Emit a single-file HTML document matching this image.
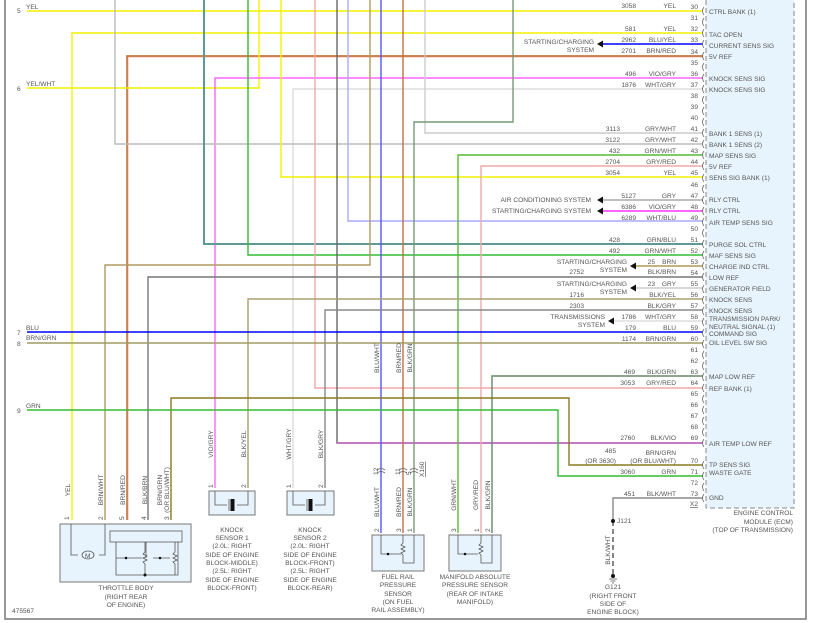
<!DOCTYPE html>
<html><head><meta charset="utf-8"><style>
html,body{margin:0;padding:0;background:#fff;}
svg{display:block;font-family:"Liberation Sans",sans-serif;}
text{fill:#555;font-size:6.6px;}
.r{text-anchor:end}.m{text-anchor:middle}
</style></head><body>
<svg width="819" height="623" viewBox="0 0 819 623" xmlns="http://www.w3.org/2000/svg">
<rect x="0" y="0" width="819" height="623" fill="#fff"/>
<!-- frame -->
<path d="M5 0 V619 H806 V0" fill="none" stroke="#777" stroke-width="1.5"/>
<!-- ECM box -->
<rect x="706" y="-5" width="88" height="513" fill="#e8f4fd" stroke="#888" stroke-dasharray="5,3"/>
<g fill="none" stroke-width="1.4">
<!-- pin5 YEL -> 30 -->
<path d="M27 11 H703" stroke="#f2f200"/>
<!-- pin 32 YEL -> throttle 1 -->
<path d="M703 33 H72 V520" stroke="#f2f200"/>
<!-- pin 34 BRN/RED -> throttle 5 -->
<path d="M703 56 H127 V520" stroke="#b5651d"/>
<path d="M703 57 H128 V520" stroke="#f08070" stroke-width="0.6"/>
<!-- pin 6 YEL/WHT -->
<path d="M27 88 H259 V0" stroke="#f2f200"/>
<!-- pin 36 VIO/GRY -> KS1 pin1 -->
<path d="M703 78 H215 V488" stroke="#ff66ff"/>
<!-- pin 37 WHT/GRY -> KS2 pin1 -->
<path d="M703 89 H293 V488" stroke="#dddddd"/>
<!-- x=115 gray -> pin 42 -->
<path d="M115 0 V144 H703" stroke="#bbbbbb"/>
<!-- 425 gray -> pin 41 -->
<path d="M425 0 V133 H703" stroke="#cccccc"/>
<!-- 281 yellow -> pin 45 -->
<path d="M281 0 V177 H703" stroke="#f2f200"/>
<!-- 204 GRN/BLU -> pin 51 -->
<path d="M204 0 V244 H703" stroke="#8888ff" stroke-width="2"/>
<path d="M204 0 V244 H703" stroke="#33aa33" stroke-width="1"/>
<!-- 248 GRN -> pin 52 -->
<path d="M248 0 V255 H703" stroke="#33bb33"/>
<!-- 348 WHT/BLU -> pin 49 -->
<path d="M348 0 V221 H703" stroke="#aaaaff"/>
<!-- 315 GRY/RED -> pin 64 -->
<path d="M315 0 V388 H703" stroke="#f0a8a8"/>
<!-- 337 BLK/VIO -> pin 69 -->
<path d="M337 0 V443 H703" stroke="#666"/>
<path d="M337 443 H703" stroke="#cc66cc"/>
<!-- 370 tan -> throttle 2 -->
<path d="M370 0 V265 H105 V520" stroke="#b09a60"/>
<!-- 381 BLU/WHT -> fuel rail 2 -->
<path d="M381 0 V533" stroke="#5555ff"/>
<!-- 403 BRN/RED -> fuel rail 3 -->
<path d="M403 0 V533" stroke="#c07040"/>
<!-- 513 green -> 414 fuel rail 1 -->
<path d="M513 0 V122 H414 V533" stroke="#779977"/>
<!-- pin 43 GRN/WHT -> MAP 3 -->
<path d="M703 155 H458 V533" stroke="#55bb33"/>
<!-- pin 44 GRY/RED -> MAP 1 -->
<path d="M703 166 H481 V533" stroke="#f0a8a8"/>
<!-- pin 63 BLK/GRN -> MAP 2 -->
<path d="M703 376 H492 V533" stroke="#668866"/>
<!-- pin 54 BLK/BRN -> throttle 4 -->
<path d="M703 277 H148 V520" stroke="#777"/>
<!-- pin 56 BLK/YEL -> KS1 pin2 -->
<path d="M703 299 H248 V488" stroke="#a8a070"/>
<!-- pin 57 BLK/GRY -> KS2 pin2 -->
<path d="M703 310 H325 V488" stroke="#888"/>
<!-- pin 59 BLU -->
<path d="M27 332 H703" stroke="#0000ff"/>
<!-- pin 60 BRN/GRN -->
<path d="M27 343 H703" stroke="#a09a60"/>
<!-- pin 70 -->
<path d="M171 520 V398 H569 V465 H703" stroke="#8a7a20"/>
<!-- pin 9 GRN -> 71 -->
<path d="M27 410 H558 V476 H703" stroke="#33bb33"/>
<!-- arrows wires -->
<path d="M600 44 H703" stroke="#0000ff"/>
<path d="M600 200 H703" stroke="#aaa"/>
<path d="M600 211 H703" stroke="#ff33ff"/>
<path d="M634 266 H703" stroke="#b09a50"/>
<path d="M634 288 H703" stroke="#ccc"/>
<path d="M612 321 H703" stroke="#ddd"/>
<!-- GND -->
<path d="M703 498 H613 V521" stroke="#888"/>
<path d="M613 521 V575" stroke="#555" stroke-dasharray="5,3"/>
</g>
<!-- arrowheads -->
<g fill="#111">
<path d="M597 44 l6 -3.5 v7z"/><path d="M597 200 l6 -3.5 v7z"/><path d="M597 211 l6 -3.5 v7z"/>
<path d="M630 266 l6 -3.5 v7z"/><path d="M630 288 l6 -3.5 v7z"/><path d="M608 321 l6 -3.5 v7z"/>
<circle cx="613" cy="521" r="2"/><circle cx="613" cy="576" r="2"/>
</g>
<path d="M609 579 h8 M610.5 581 h5 M612 583 h2" stroke="#555" stroke-width="0.8"/>
<!-- ECM connector marks -->
<g fill="none" stroke="#666" stroke-width="0.8">
<path d="M704 7 q-3 4 0 8 M704 18 q-3 4 0 8 M704 29 q-3 4 0 8 M704 40 q-3 4 0 8 M704 52 q-3 4 0 8 M704 63 q-3 4 0 8 M704 74 q-3 4 0 8 M704 85 q-3 4 0 8 M704 96 q-3 4 0 8 M704 107 q-3 4 0 8 M704 118 q-3 4 0 8 M704 129 q-3 4 0 8 M704 140 q-3 4 0 8 M704 151 q-3 4 0 8 M704 162 q-3 4 0 8 M704 174 q-3 4 0 8 M704 185 q-3 4 0 8 M704 196 q-3 4 0 8 M704 207 q-3 4 0 8 M704 218 q-3 4 0 8 M704 229 q-3 4 0 8 M704 240 q-3 4 0 8 M704 251 q-3 4 0 8 M704 262 q-3 4 0 8 M704 273 q-3 4 0 8 M704 285 q-3 4 0 8 M704 296 q-3 4 0 8 M704 307 q-3 4 0 8 M704 318 q-3 4 0 8 M704 329 q-3 4 0 8 M704 340 q-3 4 0 8 M704 351 q-3 4 0 8 M704 362 q-3 4 0 8 M704 373 q-3 4 0 8 M704 384 q-3 4 0 8 M704 395 q-3 4 0 8 M704 406 q-3 4 0 8 M704 417 q-3 4 0 8 M704 428 q-3 4 0 8 M704 439 q-3 4 0 8 M704 461 q-3 4 0 8 M704 472 q-3 4 0 8 M704 483 q-3 4 0 8 M704 494 q-3 4 0 8"/>
</g>
<!-- pin numbers -->
<g class="r">
<text x="698" y="9" class="r">30</text><text x="698" y="20" class="r">31</text><text x="698" y="31" class="r">32</text><text x="698" y="42" class="r">33</text><text x="698" y="54" class="r">34</text><text x="698" y="65" class="r">35</text><text x="698" y="76" class="r">36</text><text x="698" y="87" class="r">37</text><text x="698" y="98" class="r">38</text><text x="698" y="109" class="r">39</text><text x="698" y="120" class="r">40</text><text x="698" y="131" class="r">41</text><text x="698" y="142" class="r">42</text><text x="698" y="153" class="r">43</text><text x="698" y="164" class="r">44</text><text x="698" y="175" class="r">45</text><text x="698" y="187" class="r">46</text><text x="698" y="198" class="r">47</text><text x="698" y="209" class="r">48</text><text x="698" y="220" class="r">49</text><text x="698" y="231" class="r">50</text><text x="698" y="242" class="r">51</text><text x="698" y="253" class="r">52</text><text x="698" y="264" class="r">53</text><text x="698" y="275" class="r">54</text><text x="698" y="286" class="r">55</text><text x="698" y="297" class="r">56</text><text x="698" y="308" class="r">57</text><text x="698" y="319" class="r">58</text><text x="698" y="330" class="r">59</text><text x="698" y="341" class="r">60</text><text x="698" y="352" class="r">61</text><text x="698" y="363" class="r">62</text><text x="698" y="374" class="r">63</text><text x="698" y="385" class="r">64</text><text x="698" y="396" class="r">65</text><text x="698" y="407" class="r">66</text><text x="698" y="418" class="r">67</text><text x="698" y="429" class="r">68</text><text x="698" y="440" class="r">69</text><text x="698" y="463" class="r">70</text><text x="698" y="474" class="r">71</text><text x="698" y="485" class="r">72</text><text x="698" y="496" class="r">73</text>
</g>
<text x="698" y="506" class="r" text-decoration="underline">X2</text>
<!-- ECM labels -->
<g>
<text x="709" y="14">CTRL BANK (1)</text><text x="709" y="37">TAC OPEN</text><text x="709" y="48">CURRENT SENS SIG</text><text x="709" y="59">5V REF</text><text x="709" y="81">KNOCK SENS SIG</text><text x="709" y="92">KNOCK SENS SIG</text><text x="709" y="136">BANK 1 SENS (1)</text><text x="709" y="147">BANK 1 SENS (2)</text><text x="709" y="158">MAP SENS SIG</text><text x="709" y="169">5V REF</text><text x="709" y="180">SENS SIG BANK (1)</text><text x="709" y="202">RLY CTRL</text><text x="709" y="213">RLY CTRL</text><text x="709" y="225">AIR TEMP SENS SIG</text><text x="709" y="247">PURGE SOL CTRL</text><text x="709" y="258">MAF SENS SIG</text><text x="709" y="269">CHARGE IND CTRL</text><text x="709" y="280">LOW REF</text><text x="709" y="291">GENERATOR FIELD</text><text x="709" y="302">KNOCK SENS</text><text x="709" y="313">KNOCK SENS</text><text x="709" y="321">TRANSMISSION PARK/</text><text x="709" y="329">NEUTRAL SIGNAL (1)</text><text x="709" y="336">COMMAND SIG</text><text x="709" y="345">OIL LEVEL SW SIG</text><text x="709" y="379">MAP LOW REF</text><text x="709" y="391">REF BANK (1)</text><text x="709" y="446">AIR TEMP LOW REF</text><text x="709" y="467">TP SENS SIG</text><text x="709" y="475">WASTE GATE</text><text x="709" y="500">GND</text>
<text x="793" y="515" class="r">ENGINE CONTROL</text><text x="793" y="524" class="r">MODULE (ECM)</text><text x="793" y="532" class="r">(TOP OF TRANSMISSION)</text>
</g>
<!-- wire numbers/colors -->
<g>
<text x="636" y="8" class="r">3058</text><text x="676" y="8" class="r">YEL</text>
<text x="636" y="31" class="r">581</text><text x="676" y="31" class="r">YEL</text>
<text x="636" y="42" class="r">2962</text><text x="676" y="42" class="r">BLU/YEL</text>
<text x="636" y="53" class="r">2701</text><text x="676" y="53" class="r">BRN/RED</text>
<text x="636" y="76" class="r">496</text><text x="676" y="76" class="r">VIO/GRY</text>
<text x="636" y="87" class="r">1876</text><text x="676" y="87" class="r">WHT/GRY</text>
<text x="620" y="131" class="r">3113</text><text x="676" y="131" class="r">GRY/WHT</text>
<text x="620" y="142" class="r">3122</text><text x="676" y="142" class="r">GRY/WHT</text>
<text x="620" y="153" class="r">432</text><text x="676" y="153" class="r">GRN/WHT</text>
<text x="620" y="164" class="r">2704</text><text x="676" y="164" class="r">GRY/RED</text>
<text x="620" y="175" class="r">3054</text><text x="676" y="175" class="r">YEL</text>
<text x="636" y="198" class="r">5127</text><text x="676" y="198" class="r">GRY</text>
<text x="636" y="209" class="r">6386</text><text x="676" y="209" class="r">VIO/GRY</text>
<text x="636" y="220" class="r">6289</text><text x="676" y="220" class="r">WHT/BLU</text>
<text x="620" y="242" class="r">428</text><text x="676" y="242" class="r">GRN/BLU</text>
<text x="620" y="253" class="r">492</text><text x="676" y="253" class="r">GRN/WHT</text>
<text x="655" y="264" class="r">25</text><text x="676" y="264" class="r">BRN</text>
<text x="584" y="274" class="r">2752</text><text x="676" y="274" class="r">BLK/BRN</text>
<text x="655" y="286" class="r">23</text><text x="676" y="286" class="r">GRY</text>
<text x="584" y="297" class="r">1716</text><text x="676" y="297" class="r">BLK/YEL</text>
<text x="584" y="308" class="r">2303</text><text x="676" y="308" class="r">BLK/GRY</text>
<text x="636" y="319" class="r">1786</text><text x="676" y="319" class="r">WHT/GRY</text>
<text x="636" y="330" class="r">179</text><text x="676" y="330" class="r">BLU</text>
<text x="636" y="341" class="r">1174</text><text x="676" y="341" class="r">BRN/GRN</text>
<text x="635" y="374" class="r">469</text><text x="676" y="374" class="r">BLK/GRN</text>
<text x="635" y="385" class="r">3053</text><text x="676" y="385" class="r">GRY/RED</text>
<text x="635" y="440" class="r">2760</text><text x="676" y="440" class="r">BLK/VIO</text>
<text x="616" y="453" class="r">485</text><text x="676" y="455" class="r">BRN/GRN</text>
<text x="616" y="463" class="r">(OR 3630)</text><text x="676" y="463" class="r">(OR BLU/WHT)</text>
<text x="635" y="474" class="r">3060</text><text x="676" y="474" class="r">GRN</text>
<text x="635" y="496" class="r">451</text><text x="676" y="496" class="r">BLK/WHT</text>
<!-- system labels -->
<text x="594" y="44" class="r">STARTING/CHARGING</text><text x="594" y="52" class="r">SYSTEM</text>
<text x="591" y="202" class="r">AIR CONDITIONING SYSTEM</text>
<text x="591" y="213" class="r">STARTING/CHARGING SYSTEM</text>
<text x="627" y="264" class="r">STARTING/CHARGING</text><text x="627" y="272" class="r">SYSTEM</text>
<text x="627" y="286" class="r">STARTING/CHARGING</text><text x="627" y="294" class="r">SYSTEM</text>
<text x="605" y="319" class="r">TRANSMISSIONS</text><text x="605" y="327" class="r">SYSTEM</text>
<text x="617" y="523">J121</text>
<text x="613" y="589" class="m">G121</text><text x="613" y="598" class="m">(RIGHT FRONT</text><text x="613" y="606" class="m">SIDE OF</text><text x="613" y="614" class="m">ENGINE BLOCK)</text>
<text x="613" y="550" transform="rotate(-90 613 550)" class="m" dy="-3">BLK/WHT</text>
</g>
<!-- left side labels -->
<g>
<text x="17" y="13">5</text><text x="26" y="9">YEL</text>
<text x="17" y="91">6</text><text x="26" y="86">YEL/WHT</text>
<text x="17" y="335">7</text><text x="26" y="330">BLU</text>
<text x="17" y="346">8</text><text x="26" y="340">BRN/GRN</text>
<text x="17" y="413">9</text><text x="26" y="408">GRN</text>
<text x="12" y="613">475567</text>
</g>
<!-- vertical wire labels -->
<g>
<text transform="translate(70,490) rotate(-90)" class="m">YEL</text>
<text transform="translate(103,490) rotate(-90)" class="m">BRN/WHT</text>
<text transform="translate(125,490) rotate(-90)" class="m">BRN/RED</text>
<text transform="translate(147,490) rotate(-90)" class="m">BLK/BRN</text>
<text transform="translate(162,490) rotate(-90)" class="m">BRN/GRN</text>
<text transform="translate(169,490) rotate(-90)" class="m">(OR BLU/WHT)</text>
<text transform="translate(213,444) rotate(-90)" class="m">VIO/GRY</text>
<text transform="translate(246,444) rotate(-90)" class="m">BLK/YEL</text>
<text transform="translate(291,444) rotate(-90)" class="m">WHT/GRY</text>
<text transform="translate(323,444) rotate(-90)" class="m">BLK/GRY</text>
<text transform="translate(379,358) rotate(-90)" class="m">BLU/WHT</text>
<text transform="translate(401,358) rotate(-90)" class="m">BRN/RED</text>
<text transform="translate(412,358) rotate(-90)" class="m">BLK/GRN</text>
<text transform="translate(379,502) rotate(-90)" class="m">BLU/WHT</text>
<text transform="translate(401,502) rotate(-90)" class="m">BRN/RED</text>
<text transform="translate(412,502) rotate(-90)" class="m">BLK/GRN</text>
<text transform="translate(456,495) rotate(-90)" class="m">GRN/WHT</text>
<text transform="translate(478,495) rotate(-90)" class="m">GRY/RED</text>
<text transform="translate(490,495) rotate(-90)" class="m">BLK/GRN</text>
<text transform="translate(378,475) rotate(-90)">12</text>
<text transform="translate(400,475) rotate(-90)">11</text>
<text transform="translate(411,475) rotate(-90)">5</text>
<text transform="translate(424,477) rotate(-90)" text-decoration="underline">X160</text>
</g>
<!-- pin numbers near components -->
<g>
<text transform="translate(69,520) rotate(-90)">1</text><text transform="translate(103,520) rotate(-90)">2</text><text transform="translate(124,520) rotate(-90)">5</text><text transform="translate(146,520) rotate(-90)">4</text><text transform="translate(169,520) rotate(-90)">3</text>
<text transform="translate(213,488) rotate(-90)">1</text><text transform="translate(246,488) rotate(-90)">2</text>
<text transform="translate(291,488) rotate(-90)">1</text><text transform="translate(323,488) rotate(-90)">2</text>
<text transform="translate(379,532) rotate(-90)">2</text><text transform="translate(401,532) rotate(-90)">3</text><text transform="translate(412,532) rotate(-90)">1</text>
<text transform="translate(456,532) rotate(-90)">3</text><text transform="translate(479,532) rotate(-90)">1</text><text transform="translate(490,532) rotate(-90)">2</text>
</g>
<!-- connector hooks at fuel rail X160 -->
<g fill="none" stroke="#666" stroke-width="0.8">
<path d="M377 470 q4 -3 8 0 M377 473 q4 -3 8 0 M399 470 q4 -3 8 0 M399 473 q4 -3 8 0 M410 470 q4 -3 8 0 M410 473 q4 -3 8 0"/>
</g>
<!-- Throttle body -->
<rect x="60" y="524" width="131" height="58" fill="#e8f4fd" stroke="#777"/>
<rect x="110" y="531" width="72" height="11" fill="#e8f4fd" stroke="#777"/>
<g fill="none" stroke="#555" stroke-width="0.8">
<path d="M71 524 V555 H78 M99 555 H105 V524"/>
<ellipse cx="88" cy="555" rx="6" ry="4"/>
<path d="M116 542 V575 H178 V542 M146 542 V558 M116 558 H142 M153 558 H170"/>
<path d="M145 542 l0 10 l-2 2 l4 2 l-4 2 l4 2 l-4 2 l2 2 V575 M175 542 v10 l-2 2 l4 2 l-4 2 l4 2 l-4 2 l2 2 V575"/>
</g>
<text x="85" y="558" font-size="7">M</text>
<circle cx="126" cy="558" r="1.3" fill="#111"/><circle cx="160" cy="558" r="1.3" fill="#111"/><circle cx="145" cy="575" r="1.5" fill="#111"/>
<g class="m"><text x="126" y="590" class="m">THROTTLE BODY</text><text x="126" y="599" class="m">(RIGHT REAR</text><text x="126" y="607" class="m">OF ENGINE)</text></g>
<!-- Knock sensors -->
<rect x="209" y="491" width="46" height="24" fill="#e8f4fd" stroke="#777"/>
<rect x="287" y="491" width="47" height="24" fill="#e8f4fd" stroke="#777"/>
<g fill="none" stroke="#555" stroke-width="0.8">
<path d="M215 491 V505 H227 M237 505 H248 V491 M229 499 V511 M293 491 V505 H305 M315 505 H325 V491 M307 499 V511"/>
</g>
<rect x="230.5" y="499" width="4" height="12" fill="#111"/><rect x="308.5" y="499" width="4" height="12" fill="#111"/>
<g>
<text x="232" y="532" class="m">KNOCK</text><text x="232" y="540" class="m">SENSOR 1</text><text x="232" y="548" class="m">(2.0L: RIGHT</text><text x="232" y="557" class="m">SIDE OF ENGINE</text><text x="232" y="565" class="m">BLOCK-MIDDLE)</text><text x="232" y="573" class="m">(2.5L: RIGHT</text><text x="232" y="582" class="m">SIDE OF ENGINE</text><text x="232" y="590" class="m">BLOCK-FRONT)</text>
<text x="310" y="532" class="m">KNOCK</text><text x="310" y="540" class="m">SENSOR 2</text><text x="310" y="548" class="m">(2.0L: RIGHT</text><text x="310" y="557" class="m">SIDE OF ENGINE</text><text x="310" y="565" class="m">BLOCK-FRONT)</text><text x="310" y="573" class="m">(2.5L: RIGHT</text><text x="310" y="582" class="m">SIDE OF ENGINE</text><text x="310" y="590" class="m">BLOCK-REAR)</text>
</g>
<!-- Fuel rail & MAP -->
<rect x="372" y="535" width="52" height="36" fill="#e8f4fd" stroke="#777"/>
<rect x="449" y="535" width="52" height="36" fill="#e8f4fd" stroke="#777"/>
<g fill="none" stroke="#555" stroke-width="0.8">
<path d="M381 535 V554 H401 M403 535 V543 l-2 2 l4 2 l-4 2 l4 2 l-4 2 l2 2 V563 H414 V535"/>
<path d="M458 535 V554 H478 M481 535 V543 l-2 2 l4 2 l-4 2 l4 2 l-4 2 l2 2 V563 H492 V535"/>
</g>
<circle cx="388" cy="554" r="1.3" fill="#111"/><circle cx="465" cy="554" r="1.3" fill="#111"/>
<g>
<text x="398" y="579" class="m">FUEL RAIL</text><text x="398" y="587" class="m">PRESSURE</text><text x="398" y="596" class="m">SENSOR</text><text x="398" y="604" class="m">(ON FUEL</text><text x="398" y="612" class="m">RAIL ASSEMBLY)</text>
<text x="475" y="579" class="m">MANIFOLD ABSOLUTE</text><text x="475" y="587" class="m">PRESSURE SENSOR</text><text x="475" y="596" class="m">(REAR OF INTAKE</text><text x="475" y="604" class="m">MANIFOLD)</text>
</g>
</svg>
</body></html>
